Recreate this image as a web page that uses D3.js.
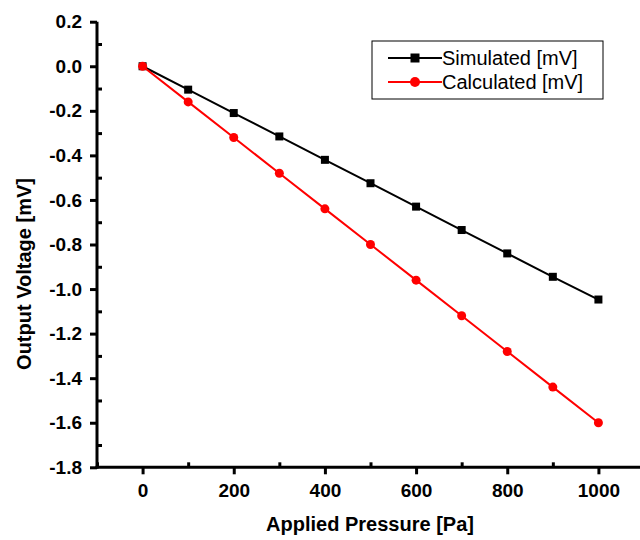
<!DOCTYPE html>
<html><head><meta charset="utf-8">
<script src="https://cdn.jsdelivr.net/npm/d3@7"></script>
<style>body{margin:0;background:#fff}</style>
</head><body>
<svg id="c" width="640" height="540"></svg>
<script>
const pressure = [0,100,200,300,400,500,600,700,800,900,1000];
const simulated = [0,-0.105,-0.21,-0.315,-0.42,-0.525,-0.63,-0.735,-0.84,-0.945,-1.047];
const calculated = [0,-0.16,-0.32,-0.48,-0.64,-0.80,-0.96,-1.12,-1.28,-1.44,-1.60];
const xTicks = [0,200,400,600,800,1000];
const xMinor = [-100,100,300,500,700,900,1100];
const yTicks = [0.2,0.0,-0.2,-0.4,-0.6,-0.8,-1.0,-1.2,-1.4,-1.6,-1.8];
const yMinor = [0.1,-0.1,-0.3,-0.5,-0.7,-0.9,-1.1,-1.3,-1.5,-1.7];
const seriesNames = ["Simulated [mV]","Calculated [mV]"];

const svg = d3.select("#c");
const x = d3.scaleLinear().domain([-100,1100]).range([97,644]);
const y = d3.scaleLinear().domain([-1.8,0.2]).range([467.3,21.7]);
const font = "Arial, 'Liberation Sans', sans-serif";
const fmtY = d => d3.format(".1f")(d).replace("\u2212","-");

// axes
const xa = svg.append("g").attr("transform","translate(0,467.3)")
  .call(d3.axisBottom(x).tickValues(xTicks).tickSize(7).tickSizeOuter(0).tickPadding(9).tickFormat(d3.format("d")));
const xm = svg.append("g").attr("transform","translate(0,467.3)")
  .call(d3.axisBottom(x).tickValues(xMinor).tickSize(-5).tickSizeOuter(0).tickFormat(""));
const ya = svg.append("g").attr("transform","translate(97,0)")
  .call(d3.axisLeft(y).tickValues(yTicks).tickSize(7).tickSizeOuter(0).tickPadding(8).tickFormat(fmtY));
const ym = svg.append("g").attr("transform","translate(97,0)")
  .call(d3.axisLeft(y).tickValues(yMinor).tickSize(-5).tickSizeOuter(0).tickFormat(""));
[xa,xm,ya,ym].forEach(g=>{
  g.selectAll("path.domain").attr("stroke","#000").attr("stroke-width",3);
  g.selectAll(".tick line").attr("stroke","#000").attr("stroke-width",3);
  g.selectAll(".tick text").attr("fill","#000").style("font-family",font).style("font-size","19px").style("font-weight","bold");
});
xm.select("path.domain").remove(); ym.select("path.domain").remove();
ya.select("path.domain").attr("d","M0,21.7V468.8");
xa.select("path.domain").attr("d","M95.5,0H644");

// titles
svg.append("text").attr("x",370).attr("y",531).attr("text-anchor","middle")
  .style("font-family",font).style("font-size","20px").style("font-weight","bold").text("Applied Pressure [Pa]");
svg.append("text").attr("transform","translate(31,274) rotate(-90)").attr("text-anchor","middle")
  .style("font-family",font).style("font-size","20px").style("font-weight","bold").text("Output Voltage [mV]");

const line = d3.line().x(d=>x(d[0])).y(d=>y(d[1]));
const simData = pressure.map((p,i)=>[p,simulated[i]]);
const calData = pressure.map((p,i)=>[p,calculated[i]]);

svg.append("path").datum(simData).attr("d",line).attr("fill","none").attr("stroke","#000").attr("stroke-width",2);
svg.selectAll(".sq").data(simData).enter().append("rect")
  .attr("x",d=>x(d[0])-4).attr("y",d=>y(d[1])-4).attr("width",8).attr("height",8).attr("fill","#000");
svg.append("path").datum(calData).attr("d",line).attr("fill","none").attr("stroke","#ff0000").attr("stroke-width",2);
svg.selectAll(".ci").data(calData).enter().append("circle")
  .attr("cx",d=>x(d[0])).attr("cy",d=>y(d[1])).attr("r",4.5).attr("fill","#ff0000");

// legend
const lg = svg.append("g");
lg.append("rect").attr("x",372).attr("y",41).attr("width",231).attr("height",58).attr("fill","#fff").attr("stroke","#000").attr("stroke-width",1);
const colors = ["#000","#ff0000"];
seriesNames.forEach((n,i)=>{
  const yy = 58 + i*24;
  lg.append("line").attr("x1",388).attr("x2",442).attr("y1",yy).attr("y2",yy).attr("stroke",colors[i]).attr("stroke-width",2);
  if(i===0) lg.append("rect").attr("x",410.5).attr("y",yy-4.5).attr("width",9).attr("height",9).attr("fill","#000");
  else lg.append("circle").attr("cx",415).attr("cy",yy).attr("r",5).attr("fill","#ff0000");
  lg.append("text").attr("x",442).attr("y",yy+7).style("font-family",font).style("font-size","20px").attr("fill","#000").text(n);
});
</script>
</body></html>
